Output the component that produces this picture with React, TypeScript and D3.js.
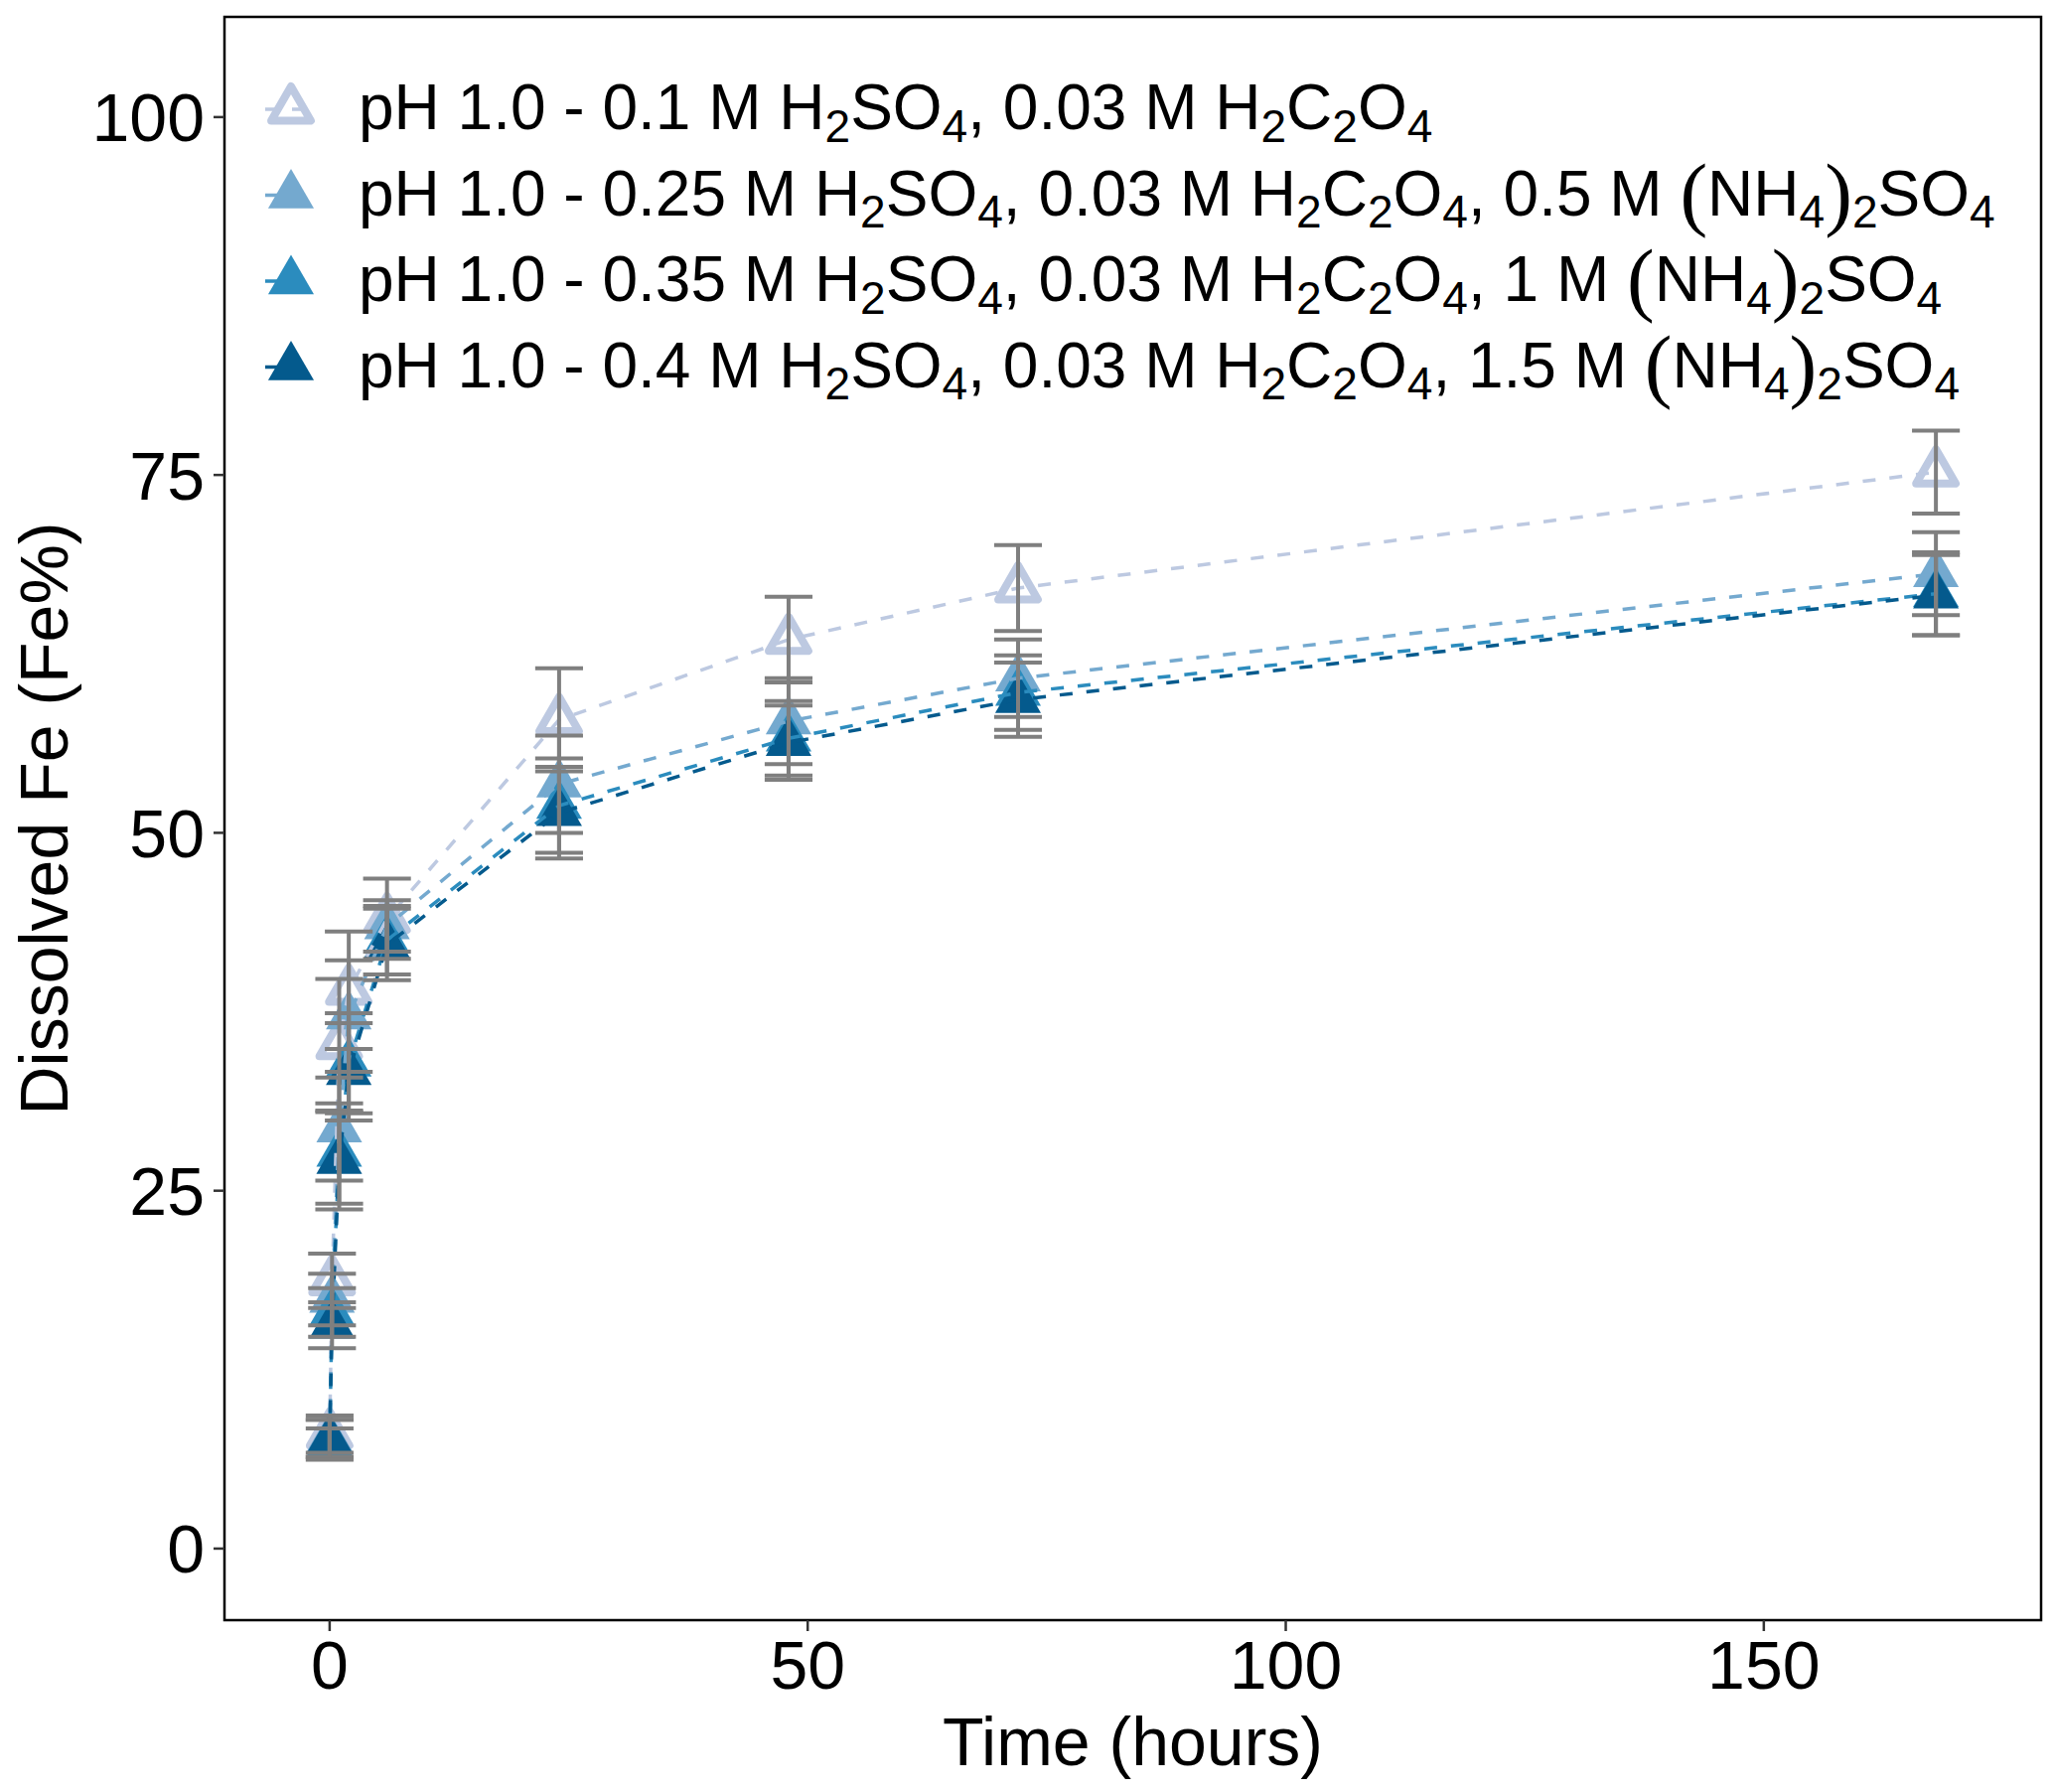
import React from "react";
import * as d3 from "d3";

// sampling times (hours)
const TIME_H = [0, 0.25, 1, 2, 6, 24, 48, 72, 168];

// dissolved Fe (%) mean and sd for each leach solution
const FE_01 = [8.0, 18.7, 35.2, 39.0, 44.0, 57.9, 63.5, 67.1, 75.2];
const SD_01 = [1.3, 1.9, 4.6, 4.1, 2.8, 3.6, 3.0, 3.0, 2.9];
const FE_025 = [7.7, 17.4, 29.3, 37.2, 43.5, 53.4, 57.8, 60.8, 68.1];
const SD_025 = [1.3, 1.8, 3.6, 3.9, 1.8, 3.4, 3.0, 2.7, 2.9];
const FE_035 = [7.4, 16.5, 27.6, 33.9, 42.5, 51.9, 56.6, 59.8, 66.7];
const SD_035 = [1.0, 1.7, 3.5, 3.5, 2.4, 3.3, 2.6, 2.6, 2.9];
const FE_04 = [7.6, 15.6, 27.1, 33.3, 42.2, 51.4, 56.3, 59.3, 66.6];
const SD_04 = [1.4, 1.6, 3.4, 3.4, 2.5, 3.2, 2.6, 2.6, 2.8];

const LABELS = [
  "pH 1.0 - 0.1 M H_2SO_4, 0.03 M H_2C_2O_4",
  "pH 1.0 - 0.25 M H_2SO_4, 0.03 M H_2C_2O_4, 0.5 M (NH_4)_2SO_4",
  "pH 1.0 - 0.35 M H_2SO_4, 0.03 M H_2C_2O_4, 1 M (NH_4)_2SO_4",
  "pH 1.0 - 0.4 M H_2SO_4, 0.03 M H_2C_2O_4, 1.5 M (NH_4)_2SO_4",
];
const COLORS = ["#bdc9e1", "#74a9cf", "#2b8cbe", "#045a8d"];
const OPEN = [true, false, false, false];

const X_TICKS = [0, 50, 100, 150];
const Y_TICKS = [0, 25, 50, 75, 100];

const W = 2067;
const H = 1804;
const margin = { top: 17, right: 12, bottom: 173, left: 226 };
const FONT = "'Liberation Sans', Arial, sans-serif";

const series = [
  { mean: FE_01, sd: SD_01 },
  { mean: FE_025, sd: SD_025 },
  { mean: FE_035, sd: SD_035 },
  { mean: FE_04, sd: SD_04 },
].map((s, i) => ({
  ...s,
  label: LABELS[i],
  color: COLORS[i],
  open: OPEN[i],
  points: TIME_H.map((t, j) => ({ t, v: s.mean[j], sd: s.sd[j] })),
}));

const tri = (r: number) => {
  const h = (r * Math.sqrt(3)) / 2;
  return `M0,${-r}L${h},${r / 2}L${-h},${r / 2}Z`;
};

function Marker({ open, color }: { open: boolean; color: string }) {
  return open ? (
    <path d={tri(23)} fill="none" stroke={color} strokeWidth={8} strokeLinejoin="round" />
  ) : (
    <path d={tri(26.6)} fill={color} />
  );
}

// label text with _x subscripts and tall parentheses
function Label({ text, fs }: { text: string; fs: number }) {
  const tokens = text.match(/_.|[()]|[^_()]+/g) || [];
  let shift = 0;
  return (
    <>
      {tokens.map((tk, i) => {
        let target = 0;
        let size = fs;
        let str = tk;
        let family = FONT;
        if (tk.startsWith("_")) {
          target = fs * 0.2;
          size = fs * 0.72;
          str = tk.slice(1);
        } else if (tk === "(" || tk === ")") {
          target = fs * 0.08;
          size = fs * 1.3;
          family = "'Liberation Serif', serif";
        }
        const dy = target - shift;
        shift = target;
        return (
          <tspan key={i} dy={dy} fontSize={size} fontFamily={family}>
            {str}
          </tspan>
        );
      })}
    </>
  );
}

export default function App() {
  const innerW = W - margin.left - margin.right;
  const innerH = H - margin.top - margin.bottom;

  const x = d3.scaleLinear().domain([-11, 179]).range([0, innerW]);
  const y = d3.scaleLinear().domain([-5, 107]).range([innerH, 0]);

  const line = d3
    .line<{ t: number; v: number }>()
    .x((d) => x(d.t))
    .y((d) => y(d.v));

  const capHalf = x(2.5) - x(0);

  return (
    <svg
      width={W}
      height={H}
      style={{ position: "absolute", left: 0, top: 0, background: "#fff" }}
      fontFamily={FONT}
    >
      <rect width={W} height={H} fill="#fff" />
      <g transform={`translate(${margin.left},${margin.top})`}>
        {/* points */}
        {series.map((s, i) => (
          <g key={`p${i}`}>
            {s.points.map((d, j) => (
              <g key={j} transform={`translate(${x(d.t)},${y(d.v)})`}>
                <Marker open={s.open} color={s.color} />
              </g>
            ))}
          </g>
        ))}
        {/* lines */}
        {series.map((s, i) => (
          <path
            key={`l${i}`}
            d={line(s.points) || ""}
            fill="none"
            stroke={s.color}
            strokeWidth={3.5}
            strokeDasharray="13 14"
          />
        ))}
        {/* error bars */}
        {series.map((s, i) => (
          <g key={`e${i}`} stroke="#7f7f7f" strokeWidth={4}>
            {s.points.map((d, j) => {
              const cx = x(d.t);
              const y1 = y(d.v + d.sd);
              const y2 = y(d.v - d.sd);
              return (
                <g key={j}>
                  <line x1={cx} x2={cx} y1={y1} y2={y2} />
                  <line x1={cx - capHalf} x2={cx + capHalf} y1={y1} y2={y1} />
                  <line x1={cx - capHalf} x2={cx + capHalf} y1={y2} y2={y2} />
                </g>
              );
            })}
          </g>
        ))}

        {/* panel border */}
        <rect x={0} y={0} width={innerW} height={innerH} fill="none" stroke="#000" strokeWidth={2.5} />

        {/* x axis */}
        {X_TICKS.map((t) => (
          <g key={t} transform={`translate(${x(t)},${innerH})`}>
            <line y1={0} y2={11} stroke="#333" strokeWidth={2.5} />
            <text y={69} textAnchor="middle" fontSize={68} fill="#000">
              {t}
            </text>
          </g>
        ))}
        {/* y axis */}
        {Y_TICKS.map((t) => (
          <g key={t} transform={`translate(0,${y(t)})`}>
            <line x1={0} x2={-11} stroke="#333" strokeWidth={2.5} />
            <text x={-20} dy="0.36em" textAnchor="end" fontSize={68} fill="#000">
              {t}
            </text>
          </g>
        ))}

        {/* legend */}
        {series.map((s, i) => {
          const cy = 93 + i * 86.5;
          return (
            <g key={`k${i}`}>
              <line
                x1={41}
                x2={94}
                y1={cy}
                y2={cy}
                stroke={s.color}
                strokeWidth={3.5}
                strokeDasharray="13 14"
              />
              <g transform={`translate(${67},${cy})`}>
                <Marker open={s.open} color={s.color} />
              </g>
              <text x={135} y={cy + 20} fontSize={64} fill="#000">
                <Label text={s.label} fs={64} />
              </text>
            </g>
          );
        })}
      </g>

      {/* axis titles */}
      <text
        x={margin.left + innerW / 2}
        y={1777}
        textAnchor="middle"
        fontSize={68}
        fill="#000"
      >
        Time (hours)
      </text>
      <text
        transform={`translate(68,${margin.top + innerH / 2}) rotate(-90)`}
        textAnchor="middle"
        fontSize={68}
        fill="#000"
      >
        Dissolved Fe (Fe%)
      </text>
    </svg>
  );
}
